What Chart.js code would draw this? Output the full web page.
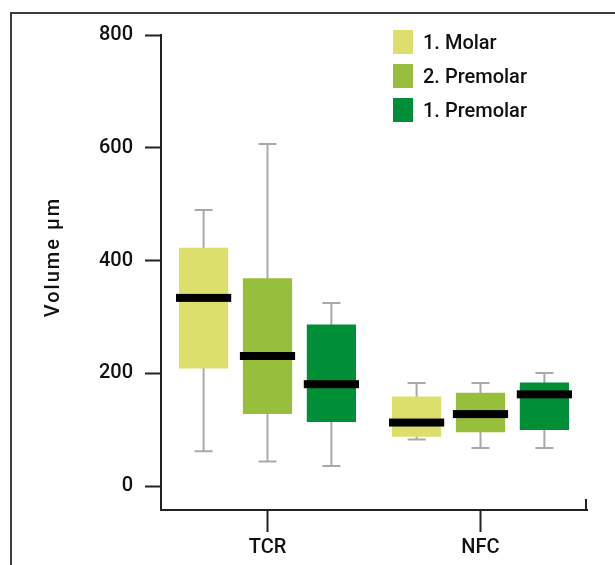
<!DOCTYPE html>
<html>
<head>
<meta charset="utf-8">
<script src="https://cdn.jsdelivr.net/npm/chart.js@4/dist/chart.umd.min.js"></script>
<style>
  html, body { margin: 0; padding: 0; background: #fff; overflow: hidden; }
  #wrap { position: relative; width: 615px; height: 565px; }
  #frame { position: absolute; left: 10px; top: 12px; width: 700px; height: 700px; border: 2px solid #3c3c3c; box-sizing: border-box; }
  canvas { position: absolute; left: 0; top: 0; }
</style>
</head>
<body>
<div id="wrap">
  <div id="frame"></div>
  <canvas id="chart" width="615" height="565"></canvas>
</div>
<script>
// categories and series
const categories = ['TCR', 'NFC'];
const seriesNames = ['1. Molar', '2. Premolar', '1. Premolar'];
const seriesColors = ['#dcdf6b', '#98bf3b', '#008f37'];

// box plot stats, one row per series, one column per category
const whiskerLow  = [[62, 83], [44, 68], [36, 68]];
const q1Values    = [[209, 88], [128, 96], [114, 100]];
const medians     = [[334, 113], [231, 128], [181, 163]];
const q3Values    = [[423, 159], [369, 166], [287, 184]];
const whiskerHigh = [[490, 183], [607, 183], [325, 201]];

const yTicks = [0, 200, 400, 600, 800];
const yTitle = 'Volume µm';

const FONT = 'Roboto, "Liberation Sans", Arial, sans-serif';
const INK = '#111';

const datasets = seriesNames.map((name, i) => ({
  label: name,
  data: categories.map((c, j) => [q1Values[i][j], q3Values[i][j]]),
  backgroundColor: seriesColors[i],
  borderWidth: 0,
  borderSkipped: false,
  categoryPercentage: 0.9,
  barPercentage: 0.77
}));

// whiskers behind, medians on top, legend + y title
const boxPlugin = {
  id: 'boxParts',
  beforeDatasetsDraw(chart) {
    const ctx = chart.ctx, y = chart.scales.y;
    ctx.save();
    ctx.strokeStyle = '#a9a9a9';
    ctx.lineWidth = 2;
    chart.data.datasets.forEach((ds, i) => {
      chart.getDatasetMeta(i).data.forEach((bar, j) => {
        const lo = y.getPixelForValue(whiskerLow[i][j]);
        const hi = y.getPixelForValue(whiskerHigh[i][j]);
        ctx.beginPath();
        ctx.moveTo(bar.x, lo); ctx.lineTo(bar.x, hi);
        ctx.moveTo(bar.x - 9, lo); ctx.lineTo(bar.x + 9, lo);
        ctx.moveTo(bar.x - 9, hi); ctx.lineTo(bar.x + 9, hi);
        ctx.stroke();
      });
    });
    ctx.restore();
  },
  afterDatasetsDraw(chart) {
    const ctx = chart.ctx, y = chart.scales.y, area = chart.chartArea;
    ctx.save();
    ctx.fillStyle = '#000';
    chart.data.datasets.forEach((ds, i) => {
      chart.getDatasetMeta(i).data.forEach((bar, j) => {
        const m = y.getPixelForValue(medians[i][j]);
        const w = bar.width + 6;
        ctx.fillRect(bar.x - w / 2, m - 4, w, 8);
      });
    });
    // little end tick on the x axis
    ctx.fillStyle = '#222';
    ctx.fillRect(area.right - 2, area.bottom - 11, 2, 12);

    // legend
    const lx = area.left + 232, ly = area.top - 5;
    ctx.font = '500 20px ' + FONT;
    ctx.textBaseline = 'middle';
    chart.data.datasets.forEach((ds, i) => {
      const top = ly + i * 34;
      ctx.fillStyle = ds.backgroundColor;
      ctx.fillRect(lx, top, 20, 24);
      ctx.fillStyle = INK;
      ctx.fillText(ds.label, lx + 30, top + 14);
    });

    // y axis title
    ctx.translate(54, 257);
    ctx.rotate(-Math.PI / 2);
    ctx.textAlign = 'center';
    ctx.letterSpacing = '2px';
    ctx.fillStyle = INK;
    ctx.fillText(yTitle, 0, 0);
    ctx.restore();
  }
};

new Chart(document.getElementById('chart'), {
  type: 'bar',
  data: { labels: categories, datasets: datasets },
  options: {
    responsive: false,
    animation: false,
    layout: { padding: { top: 35, right: 28, bottom: 0, left: 0 } },
    plugins: { legend: { display: false }, tooltip: { enabled: false } },
    scales: {
      x: {
        grid: { offset: false, drawOnChartArea: false, tickLength: 22, tickWidth: 2, tickColor: '#222' },
        border: { color: '#222', width: 2 },
        ticks: { color: INK, font: { family: FONT, size: 20, weight: '500' }, padding: 4 },
        afterFit(scale) { scale.height = 55; }
      },
      y: {
        min: -42,
        max: 800,
        afterBuildTicks(scale) { scale.ticks = yTicks.map(v => ({ value: v })); },
        grid: { drawOnChartArea: false, tickLength: 16, tickWidth: 2, tickColor: '#222' },
        border: { color: '#222', width: 2 },
        ticks: { color: INK, font: { family: FONT, size: 20, weight: '500' }, padding: 12 },
        afterFit(scale) { scale.width = 161; }
      }
    }
  },
  plugins: [boxPlugin]
});
</script>
</body>
</html>
